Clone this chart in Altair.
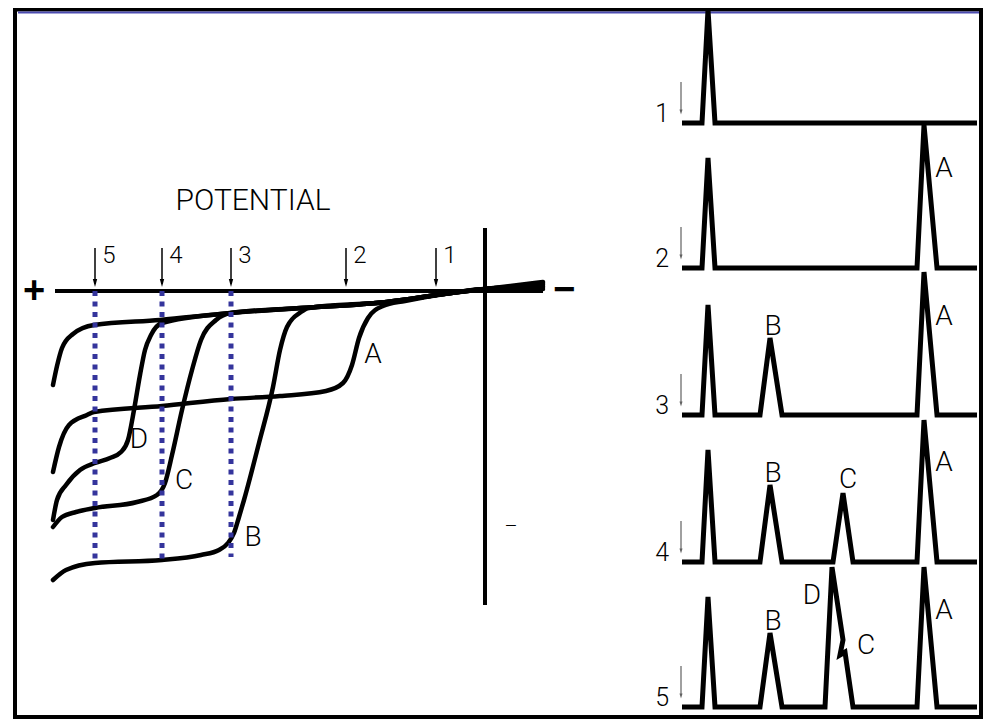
import altair as alt
import pandas as pd

# ---------------- canvas (pixel-like coordinate system) ----------------
W, H = 975, 711
X0, X1 = 8, 983
Y0, Y1 = 8, 719

# ---------------- left panel: polarographic waves ----------------
curve_top = [(53, 385), (57, 366), (62, 348), (73, 334), (94, 325), (160, 320), (231, 313),
             (301, 308), (387, 302), (451, 293), (485, 289), (543, 282)]
curve_A = [(53, 472), (59, 447), (69, 425), (87, 415), (94, 412), (162, 406), (231, 399),
           (280, 396), (326, 391), (343, 383), (352, 365), (359, 338), (368, 318), (383, 306),
           (405, 301), (451, 293), (485, 289), (543, 284)]
curve_D = [(53, 520), (57, 500), (66, 485), (80, 470), (95, 463), (110, 458), (121, 452),
           (128, 440), (134, 410), (140, 375), (145, 350), (151, 335), (162, 323), (231, 313),
           (301, 308), (387, 302), (451, 293), (485, 289), (543, 286)]
curve_C = [(53, 527), (62, 517), (76, 512), (95, 508), (137, 502), (157, 495), (165, 483),
           (172, 455), (182, 410), (192, 370), (201, 340), (216, 320), (231, 313), (301, 308),
           (387, 302), (451, 293), (485, 289), (543, 287)]
curve_B = [(53, 580), (66, 570), (95, 563), (162, 560), (201, 555), (219, 550), (228, 543),
           (234, 533), (239, 517), (244, 500), (259, 443), (273, 387), (280, 350), (287, 327),
           (301, 312), (309, 308), (387, 302), (451, 293), (485, 289), (543, 289)]
left_curves = {"top": curve_top, "A": curve_A, "D": curve_D, "C": curve_C, "B": curve_B}

axis_h = [(55, 291), (543, 291)]
axis_v = [(485, 228), (485, 605)]

# potentials marked on the axis
pot_labels = ["5", "4", "3", "2", "1"]
pot_x = [95, 162, 231, 346, 436]
dotted_bottom = [562, 560, 557]          # blue dotted lines for 5, 4, 3

left_letters = ["A", "D", "C", "B"]
left_letter_xy = [(373, 355), (139, 440), (184, 481), (253, 538)]

# ---------------- right panel: chromatograms ----------------
trace_names = ["1", "2", "3", "4", "5"]
trace_base = [123, 268, 415, 562, 707]
trace_start, trace_end = 682, 977
inj_peak = (702, 708, 715)
inj_top = [10, 158, 305, 450, 597]
peak_B = (760, 770, 782)
peak_C = (833, 843, 853)
peak_A = (917, 924, 937)
B_top = [None, None, 338, 485, 633]
C_top = [None, None, None, 493, None]
A_top = [None, 125, 272, 420, 567]
# trace 5: D peak with C shoulder
peak_DC = [(825, 707), (832, 567), (843, 640), (840, 655), (845, 652), (853, 707)]

right_letters = [("A", 944, 169), ("B", 773, 327), ("A", 944, 317), ("B", 773, 474),
                 ("C", 848, 480), ("A", 944, 463), ("B", 773, 622), ("D", 812, 596),
                 ("C", 866, 646), ("A", 944, 611)]

# ---------------- build tables ----------------
rows = []
for name, pts in left_curves.items():
    for i, (x, y) in enumerate(pts):
        rows.append({"id": name, "i": i, "x": x, "y": y})
left_df = pd.DataFrame(rows)

rows = []
for name, pts in [("h", axis_h), ("v", axis_v)]:
    for i, (x, y) in enumerate(pts):
        rows.append({"id": name, "i": i, "x": x, "y": y})
axis_df = pd.DataFrame(rows)

rows = []
for t, base in enumerate(trace_base):
    pts = [(trace_start, base), (inj_peak[0], base), (inj_peak[1], inj_top[t]), (inj_peak[2], base)]
    if B_top[t] is not None:
        pts += [(peak_B[0], base), (peak_B[1], B_top[t]), (peak_B[2], base)]
    if C_top[t] is not None:
        pts += [(peak_C[0], base), (peak_C[1], C_top[t]), (peak_C[2], base)]
    if t == 4:
        pts += peak_DC
    if A_top[t] is not None:
        pts += [(peak_A[0], base), (peak_A[1], A_top[t]), (peak_A[2], base)]
    pts += [(trace_end, base)]
    for i, (x, y) in enumerate(pts):
        rows.append({"id": trace_names[t], "i": i, "x": x, "y": y})
trace_df = pd.DataFrame(rows)

dotted_df = pd.DataFrame({"x": pot_x[:3], "y": [291] * 3, "y2": dotted_bottom})

arrow_df = pd.DataFrame({"x": pot_x, "y": [248] * 5, "y2": [284] * 5, "tip": [283] * 5})
pot_text_df = pd.DataFrame({"x": [px + 14 for px in pot_x], "y": [256] * 5, "t": pot_labels})

garrow_df = pd.DataFrame({"x": [681] * 5, "y": [b - 41 for b in trace_base],
                          "y2": [b - 12 for b in trace_base], "tip": [b - 11 for b in trace_base]})
trace_text_df = pd.DataFrame({"x": [669] * 5, "y": [b - 1 for b in trace_base], "t": trace_names})

letters_df = pd.DataFrame(
    [{"t": t, "x": x, "y": y} for t, (x, y) in zip(left_letters, left_letter_xy)]
    + [{"t": t, "x": x, "y": y} for t, x, y in right_letters]
)

title_df = pd.DataFrame({"t": ["POTENTIAL"], "x": [253], "y": [201]})
sign_df = pd.DataFrame({"t": ["+", "\u2212"], "x": [34, 564], "y": [292, 291]})
dash_df = pd.DataFrame({"t": ["\u2013"], "x": [511], "y": [527]})

frame_df = pd.DataFrame({"x": [15], "x2": [981], "y": [9.5], "y2": [717]})
blue_df = pd.DataFrame({"x": [18], "x2": [979], "y": [12.5]})

# ---------------- scales ----------------
xs = alt.Scale(domain=[X0, X1], nice=False, zero=False)
ys = alt.Scale(domain=[Y0, Y1], nice=False, zero=False, reverse=True)


def X(f="x"):
    return alt.X(f"{f}:Q", scale=xs, axis=None)


def Y(f="y"):
    return alt.Y(f"{f}:Q", scale=ys, axis=None)


FONT = "Roboto, Liberation Sans, sans-serif"
FW = 300

frame = alt.Chart(frame_df).mark_rect(fillOpacity=0, stroke="black", strokeWidth=4).encode(
    x=X(), x2="x2", y=Y(), y2="y2")
blue = alt.Chart(blue_df).mark_rule(color="#4b4bb0", strokeWidth=2).encode(
    x=X(), x2="x2", y=Y())

axes = alt.Chart(axis_df).mark_line(color="black", strokeWidth=4).encode(
    x=X(), y=Y(), detail="id:N", order="i:Q")
curves = alt.Chart(left_df).mark_line(color="black", strokeWidth=4.5, interpolate="monotone",
                                      strokeCap="round").encode(
    x=X(), y=Y(), detail="id:N", order="i:Q")
dotted = alt.Chart(dotted_df).mark_rule(color="#34349c", strokeWidth=5, strokeDash=[5, 5.5]).encode(
    x=X(), y=Y(), y2="y2")

arrow_lines = alt.Chart(arrow_df).mark_rule(color="black", strokeWidth=1.5).encode(
    x=X(), y=Y(), y2="y2")
arrow_heads = alt.Chart(arrow_df).mark_point(shape="M-0.55,-1L0.55,-1L0,1Z", filled=True, size=64,
                                             color="black", opacity=1).encode(
    x=X(), y=Y("tip"))
pot_text = alt.Chart(pot_text_df).mark_text(font=FONT, fontSize=24, fontWeight=FW, align="center",
                                            baseline="middle", color="black").encode(
    x=X(), y=Y(), text="t:N")

traces = alt.Chart(trace_df).mark_line(color="black", strokeWidth=5, strokeJoin="miter").encode(
    x=X(), y=Y(), detail="id:N", order="i:Q")
garrow_lines = alt.Chart(garrow_df).mark_rule(color="#808080", strokeWidth=1.5).encode(
    x=X(), y=Y(), y2="y2")
garrow_heads = alt.Chart(garrow_df).mark_point(shape="M-0.6,-1L0.6,-1L0,1Z", filled=True, size=25,
                                               color="#606060", opacity=1).encode(
    x=X(), y=Y("tip"))
trace_text = alt.Chart(trace_text_df).mark_text(font=FONT, fontSize=25, fontWeight=FW, align="right",
                                                baseline="alphabetic", color="black").encode(
    x=X(), y=Y(), text="t:N")

letters = alt.Chart(letters_df).mark_text(font=FONT, fontSize=28, fontWeight=FW, align="center",
                                          baseline="middle", color="black").encode(
    x=X(), y=Y(), text="t:N")

title = alt.Chart(title_df).mark_text(font=FONT, fontSize=30, fontWeight=FW, align="center",
                                      baseline="middle", color="black").encode(
    x=X(), y=Y(), text="t:N")
signs = alt.Chart(sign_df).mark_text(font="Liberation Sans", fontSize=38, fontWeight="bold",
                                     align="center", baseline="middle", color="black").encode(
    x=X(), y=Y(), text="t:N")
dash = alt.Chart(dash_df).mark_text(font=FONT, fontSize=20, fontWeight=FW, align="center",
                                    baseline="middle", color="black").encode(
    x=X(), y=Y(), text="t:N")

chart = alt.layer(
    frame, blue, axes, curves, dotted, arrow_lines, arrow_heads, pot_text,
    traces, garrow_lines, garrow_heads, trace_text, letters, title, signs, dash
).properties(
    width=W, height=H, padding=0, autosize=alt.AutoSizeParams(type="none"),
    background="white"
).configure_view(stroke=None)

chart.save("out.html", embed_options={"renderer": "svg", "actions": False})
